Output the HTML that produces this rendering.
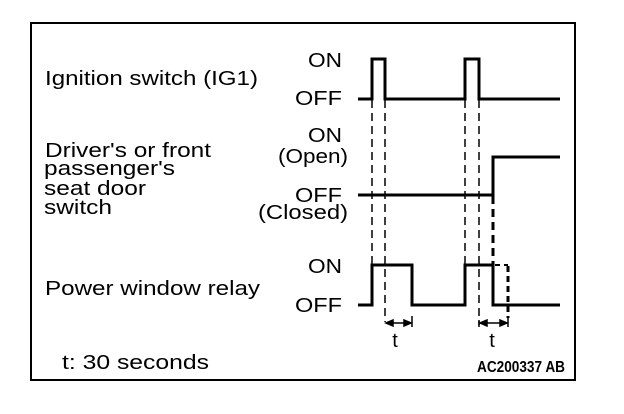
<!DOCTYPE html>
<html><head><style>
html,body{margin:0;padding:0;background:#fff;}
svg{display:block;}
text{font-family:"Liberation Sans",Arial,sans-serif;fill:#000;}
</style></head><body>
<svg width="624" height="414" viewBox="0 0 624 414" xmlns="http://www.w3.org/2000/svg">
<rect x="31" y="23" width="544" height="357" fill="none" stroke="#000" stroke-width="2"/>
<g font-size="20" lengthAdjust="spacingAndGlyphs">
<text x="45" y="85" textLength="213" lengthAdjust="spacingAndGlyphs">Ignition switch (IG1)</text>
<text x="45" y="157" textLength="166" lengthAdjust="spacingAndGlyphs">Driver's or front</text>
<text x="44" y="175" textLength="131" lengthAdjust="spacingAndGlyphs">passenger's</text>
<text x="44" y="195" textLength="102" lengthAdjust="spacingAndGlyphs">seat door</text>
<text x="44" y="214" textLength="68" lengthAdjust="spacingAndGlyphs">switch</text>
<text x="45" y="295" textLength="215" lengthAdjust="spacingAndGlyphs">Power window relay</text>
<text x="62" y="369" textLength="147" lengthAdjust="spacingAndGlyphs">t: 30 seconds</text>
</g>
<g font-size="20">
<text x="308" y="67" textLength="34" lengthAdjust="spacingAndGlyphs">ON</text>
<text x="295" y="105" textLength="47" lengthAdjust="spacingAndGlyphs">OFF</text>
<text x="308" y="142" textLength="34" lengthAdjust="spacingAndGlyphs">ON</text>
<text x="278" y="163" textLength="70" lengthAdjust="spacingAndGlyphs">(Open)</text>
<text x="295" y="202" textLength="47" lengthAdjust="spacingAndGlyphs">OFF</text>
<text x="258" y="219" textLength="90" lengthAdjust="spacingAndGlyphs">(Closed)</text>
<text x="308" y="273" textLength="34" lengthAdjust="spacingAndGlyphs">ON</text>
<text x="295" y="312" textLength="47" lengthAdjust="spacingAndGlyphs">OFF</text>
<text x="395" y="347" text-anchor="middle">t</text>
<text x="492" y="347" text-anchor="middle">t</text>
</g>
<text x="477" y="372" font-size="16" font-weight="bold" textLength="88" lengthAdjust="spacingAndGlyphs">AC200337 AB</text>
<g fill="none" stroke="#000" stroke-width="3">
<polyline points="358,99 372,99 372,59 385,59 385,99 465,99 465,59 479,59 479,99 560,99"/>
<polyline points="358,195 493,195 493,157 560,157"/>
<polyline points="358,305 372,305 372,265 412,265 412,305 465,305 465,265 493,265 493,305 560,305"/>
</g>
<g fill="none" stroke="#000" stroke-width="1.5" stroke-dasharray="8,5">
<line x1="372" y1="100" x2="372" y2="265"/>
<line x1="385" y1="100" x2="385" y2="322"/>
<line x1="465" y1="100" x2="465" y2="265"/>
<line x1="479" y1="100" x2="479" y2="325"/>
</g>
<line x1="493" y1="196" x2="493" y2="265" stroke="#000" stroke-width="3" stroke-dasharray="8,5"/>
<line x1="495" y1="265" x2="508" y2="265" stroke="#000" stroke-width="2" stroke-dasharray="5,4"/>
<line x1="508" y1="266" x2="508" y2="318" stroke="#000" stroke-width="3" stroke-dasharray="6,4"/>
<g stroke="#000" stroke-width="1.5" fill="#000">
<line x1="386" y1="323" x2="411" y2="323"/>
<line x1="412" y1="316" x2="412" y2="327"/>
<polygon points="386,323 393,320 393,326"/>
<polygon points="411,323 404,320 404,326"/>
<line x1="480" y1="323" x2="507" y2="323"/>
<line x1="479" y1="320" x2="479" y2="327"/>
<line x1="508" y1="318" x2="508" y2="327"/>
<polygon points="480,323 487,320 487,326"/>
<polygon points="507,323 500,320 500,326"/>
</g>
</svg>
</body></html>
